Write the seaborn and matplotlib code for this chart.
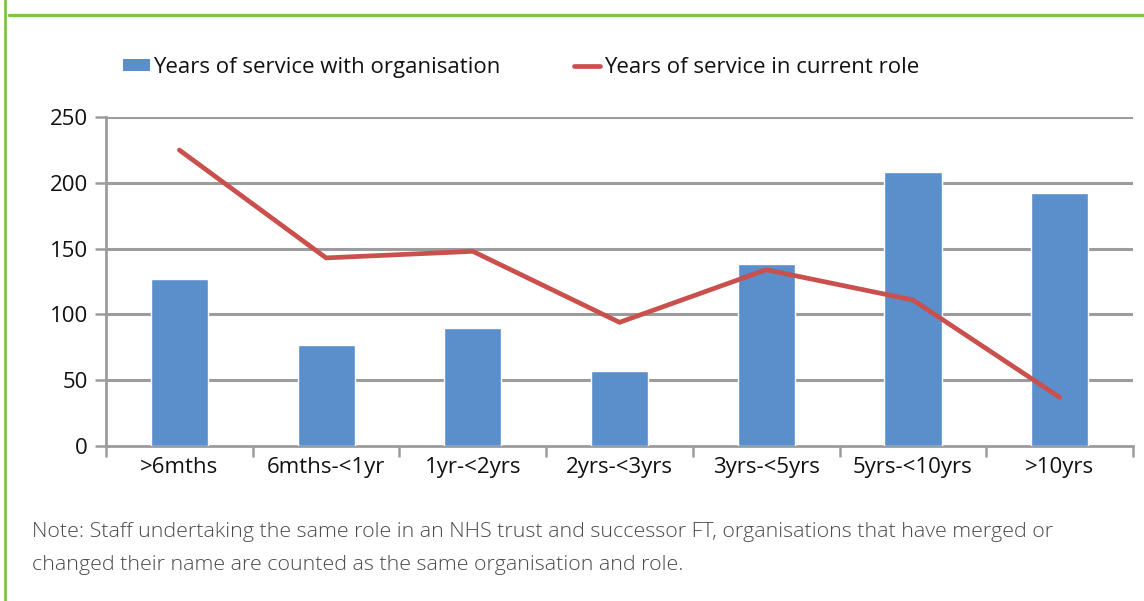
import numpy as np
import pandas as pd
import matplotlib
matplotlib.use("Agg")
import matplotlib.pyplot as plt
from matplotlib.lines import Line2D
from matplotlib.patches import Patch
import seaborn as sns

# Service length bands and staff counts
categories = [">6mths", "6mths-<1yr", "1yr-<2yrs", "2yrs-<3yrs",
              "3yrs-<5yrs", "5yrs-<10yrs", ">10yrs"]
with_organisation = [127, 77, 90, 57, 138, 208, 192]
in_current_role = [225, 143, 148, 94, 134, 111, 37]
y_ticks = [0, 50, 100, 150, 200, 250]

org_label = "Years of service with organisation"
role_label = "Years of service in current role"
note_lines = [
    "Note: Staff undertaking the same role in an NHS trust and successor FT, organisations that have merged or",
    "changed their name are counted as the same organisation and role.",
]

BLUE = "#5A8FCB"
RED = "#C9504C"
GRID = "#9C9C9C"
GREEN = "#7BC64A"

sns.set_theme(style="white")
plt.rcParams["font.family"] = ["Open Sans", "DejaVu Sans"]

df = pd.DataFrame({"band": categories, "org": with_organisation, "role": in_current_role})

fig = plt.figure(figsize=(11.44, 6.01), dpi=100)
ax = fig.add_axes([0.0927, 0.258, 0.8977, 0.547])

sns.barplot(data=df, x="band", y="org", color=BLUE, width=0.39,
            saturation=1, ax=ax, zorder=3)
sns.lineplot(x=np.arange(len(categories)), y=in_current_role, color=RED,
             linewidth=3.4, sort=False, ax=ax, zorder=4)

ax.set_xlim(-0.5, len(categories) - 0.5)
ax.set_ylim(0, 250)
ax.set_yticks(y_ticks)
ax.set_xlabel("")
ax.set_ylabel("")

# Gridlines and axes
for v in y_ticks[1:]:
    ax.axhline(v, color=GRID, linewidth=2.2, zorder=1)
for s in ["top", "right"]:
    ax.spines[s].set_visible(False)
for s in ["left", "bottom"]:
    ax.spines[s].set_color(GRID)
    ax.spines[s].set_linewidth(2.0)

ax.tick_params(axis="y", which="major", length=8, width=1.8, color=GRID,
               direction="out", labelsize=16, labelcolor="#111111", pad=5, left=True)
ax.tick_params(axis="x", which="major", length=0, labelsize=16,
               labelcolor="#111111", pad=8)
ax.set_xticks(np.arange(-0.5, len(categories)), minor=True)
ax.tick_params(axis="x", which="minor", length=8, width=1.8, color=GRID,
               direction="out", bottom=True)

# Legend across the top
handles = [Patch(facecolor=BLUE, edgecolor="none"),
           Line2D([0], [0], color=RED, linewidth=3.4)]
fig.legend(handles, [org_label, role_label], loc="center left",
           bbox_to_anchor=(0.1075, 0.888), ncol=2, frameon=False,
           fontsize=16, handlelength=1.2, handleheight=0.5,
           handletextpad=0.15, columnspacing=3.3, borderpad=0,
           borderaxespad=0, labelcolor="#111111")

# Footnote
for i, line in enumerate(note_lines):
    fig.text(0.028, 1 - (532 + 33 * i) / 601, line, ha="left", va="center",
             fontsize=15.4, color="#4a4a4a", fontweight="light")

# Green panel border
fig.add_artist(Line2D([0.008, 1.0], [1 - 15 / 601, 1 - 15 / 601],
                      color=GREEN, linewidth=2.4, transform=fig.transFigure))
fig.add_artist(Line2D([0.0045, 0.0045], [0.0, 1.0], color=GREEN,
                      linewidth=2.0, transform=fig.transFigure))

fig.savefig("out.png", dpi=100, facecolor="white")
